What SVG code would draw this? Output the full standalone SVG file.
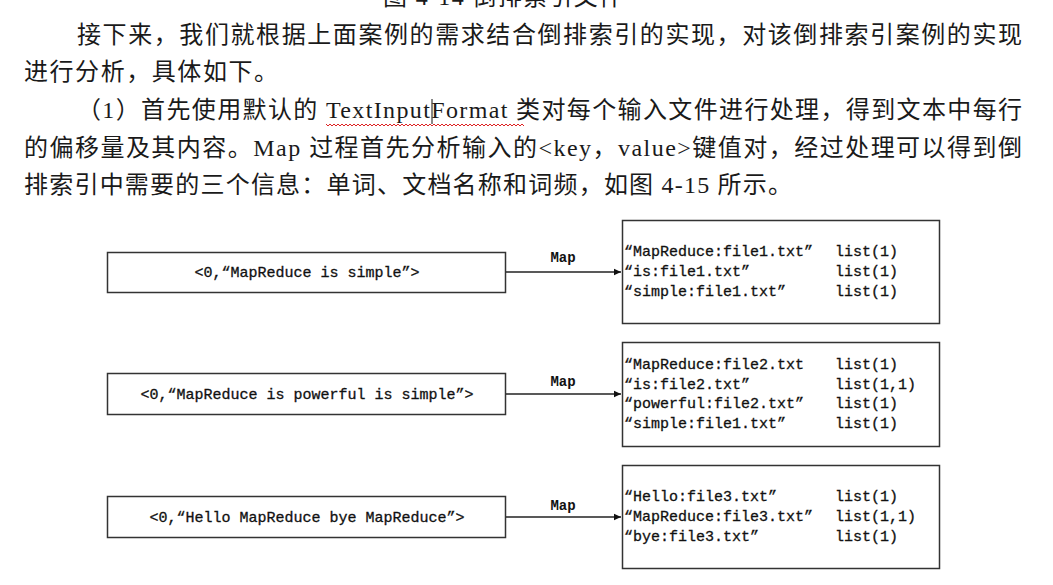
<svg xmlns="http://www.w3.org/2000/svg" width="1053" height="585" viewBox="0 0 1053 585">
<style>
.body{font-family:"Liberation Serif","Noto Sans CJK SC",serif;font-size:24px;fill:#1a1a1a}
.mono{font-family:"Liberation Mono","DejaVu Sans Mono",monospace;font-size:15px;fill:#111;stroke:#111;stroke-width:0.3}
.lbl{font-family:"Liberation Mono","DejaVu Sans Mono",monospace;font-size:14px;font-weight:bold;fill:#111}
.box{fill:#fff;stroke:#333;stroke-width:1.5}
.edge{stroke:#222;stroke-width:1.4;fill:none;marker-end:url(#arr)}
</style>
<defs>
<marker id="arr" markerWidth="8" markerHeight="8" refX="7" refY="4" orient="auto" markerUnits="userSpaceOnUse">
<path d="M0,0.8 L7,4 L0,7.2 Z" fill="#111"/>
</marker>
</defs>
<rect width="1053" height="585" fill="#fff"/>
<g id="text-block">
<text class="body" x="383" y="5" textLength="240" lengthAdjust="spacing">图 4-14 倒排索引文件</text>
<text class="body" x="77" y="43" textLength="945" lengthAdjust="spacing">接下来，我们就根据上面案例的需求结合倒排索引的实现，对该倒排索引案例的实现</text>
<text class="body" x="24" y="80" textLength="254" lengthAdjust="spacing">进行分析，具体如下。</text>
<text class="body" x="77" y="118" textLength="945" lengthAdjust="spacing">（1）首先使用默认的 TextInputFormat 类对每个输入文件进行处理，得到文本中每行</text>
<text class="body" x="24" y="156" textLength="998" lengthAdjust="spacing">的偏移量及其内容。Map 过程首先分析输入的&lt;key，value&gt;键值对，经过处理可以得到倒</text>
<text class="body" x="24" y="193" textLength="768" lengthAdjust="spacing">排索引中需要的三个信息：单词、文档名称和词频，如图 4-15 所示。</text>
<path d="M326,124 l2,2 l2,-2 l2,2 l2,-2 l2,2 l2,-2 l2,2 l2,-2 l2,2 l2,-2 l2,2 l2,-2 l2,2 l2,-2 l2,2 l2,-2 l2,2 l2,-2 l2,2 l2,-2 l2,2 l2,-2 l2,2 l2,-2 l2,2 l2,-2 l2,2 l2,-2 l2,2 l2,-2 l2,2 l2,-2 l2,2 l2,-2 l2,2 l2,-2 l2,2 l2,-2 l2,2 l2,-2 l2,2 l2,-2 l2,2 l2,-2 l2,2 l2,-2 l2,2 l2,-2 l2,2 l2,-2 l2,2 l2,-2 l2,2 l2,-2 l2,2 l2,-2 l2,2 l2,-2 l2,2 l2,-2 l2,2 l2,-2 l2,2 l2,-2 l2,2 l2,-2 l2,2 l2,-2 l2,2 l2,-2 l2,2 l2,-2 l2,2 l2,-2 l2,2 l2,-2 l2,2 l2,-2 l2,2 l2,-2 l2,2 l2,-2 l2,2 l2,-2 l2,2 l2,-2 l2,2 l2,-2 l2,2 l2,-2 l2,2 l2,-2 l2,2 l2,-2 l2,2 l2,-2 l2,2 l2,-2 l2,2" fill="none" stroke="#d22" stroke-width="1"/>
<line x1="432" y1="99" x2="432" y2="124" stroke="#111" stroke-width="1"/>
</g>
<g id="connectors">
<line class="edge" x1="506" y1="272" x2="621" y2="272"/>
<text class="lbl" x="563" y="262" text-anchor="middle">Map</text>
<line class="edge" x1="506" y1="394" x2="621" y2="394"/>
<text class="lbl" x="563" y="386" text-anchor="middle">Map</text>
<line class="edge" x1="506" y1="517" x2="621" y2="517"/>
<text class="lbl" x="563" y="510" text-anchor="middle">Map</text>
</g>
<g id="in1">
<rect class="box" x="107.5" y="252.5" width="398" height="40"/>
<text class="mono" x="307" y="277" text-anchor="middle">&lt;0,“MapReduce is simple”&gt;</text>
</g>
<g id="in2">
<rect class="box" x="107.5" y="373.5" width="398" height="41"/>
<text class="mono" x="307" y="399" text-anchor="middle">&lt;0,“MapReduce is powerful is simple”&gt;</text>
</g>
<g id="in3">
<rect class="box" x="107.5" y="496.5" width="398" height="41"/>
<text class="mono" x="307" y="522" text-anchor="middle">&lt;0,“Hello MapReduce bye MapReduce”&gt;</text>
</g>
<g id="out1">
<rect class="box" x="622.5" y="220.5" width="317" height="103"/>
<text class="mono" x="624" y="256">“MapReduce:file1.txt”</text>
<text class="mono" x="835" y="256">list(1)</text>
<text class="mono" x="624" y="276">“is:file1.txt”</text>
<text class="mono" x="835" y="276">list(1)</text>
<text class="mono" x="624" y="296">“simple:file1.txt”</text>
<text class="mono" x="835" y="296">list(1)</text>
</g>
<g id="out2">
<rect class="box" x="622.5" y="342.5" width="317" height="104"/>
<text class="mono" x="624" y="369">“MapReduce:file2.txt</text>
<text class="mono" x="835" y="369">list(1)</text>
<text class="mono" x="624" y="389">“is:file2.txt”</text>
<text class="mono" x="835" y="389">list(1,1)</text>
<text class="mono" x="624" y="408">“powerful:file2.txt”</text>
<text class="mono" x="835" y="408">list(1)</text>
<text class="mono" x="624" y="428">“simple:file1.txt”</text>
<text class="mono" x="835" y="428">list(1)</text>
</g>
<g id="out3">
<rect class="box" x="622.5" y="465.5" width="317" height="103"/>
<text class="mono" x="624" y="501">“Hello:file3.txt”</text>
<text class="mono" x="835" y="501">list(1)</text>
<text class="mono" x="624" y="521">“MapReduce:file3.txt”</text>
<text class="mono" x="835" y="521">list(1,1)</text>
<text class="mono" x="624" y="541">“bye:file3.txt”</text>
<text class="mono" x="835" y="541">list(1)</text>
</g>
</svg>
